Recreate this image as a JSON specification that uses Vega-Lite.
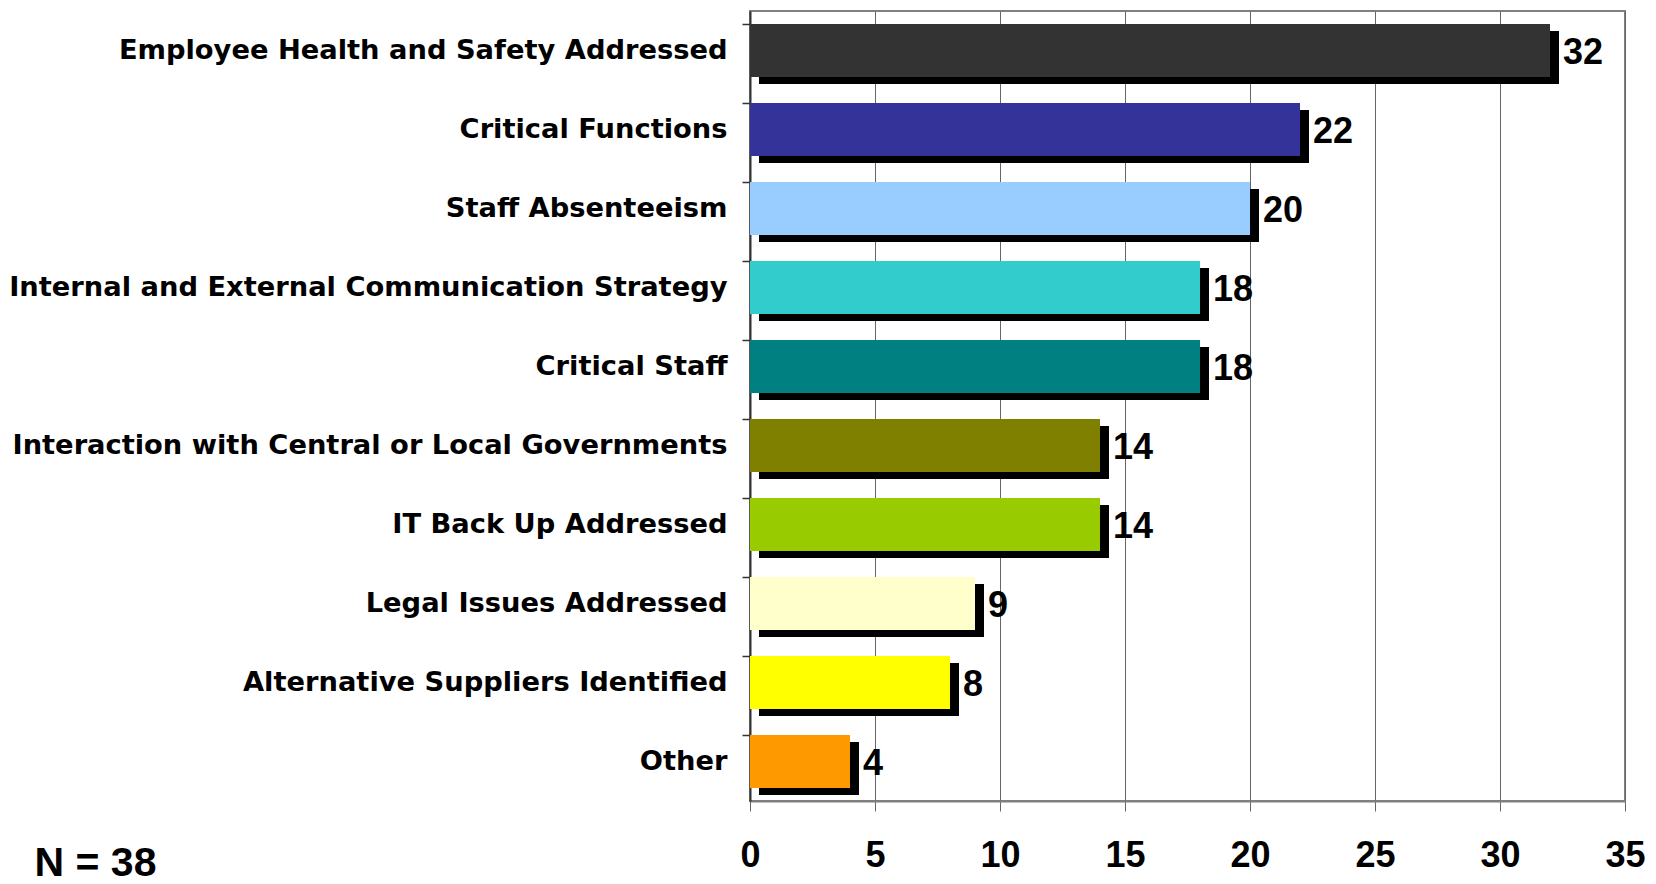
{
  "$schema": "https://vega.github.io/schema/vega-lite/v6.json",
  "width": 875,
  "height": 790,
  "autosize": {"type": "none"},
  "padding": {"left": 750, "top": 11, "right": 31, "bottom": 83},
  "background": "white",
  "config": {
    "view": {"stroke": "#808080", "strokeWidth": 2}
  },
  "data": {
    "values": [
      {"cat": "Employee Health and Safety Addressed", "value": 32},
      {"cat": "Critical Functions", "value": 22},
      {"cat": "Staff Absenteeism", "value": 20},
      {"cat": "Internal and External Communication Strategy", "value": 18},
      {"cat": "Critical Staff", "value": 18},
      {"cat": "Interaction with Central or Local Governments", "value": 14},
      {"cat": "IT Back Up Addressed", "value": 14},
      {"cat": "Legal Issues Addressed", "value": 9},
      {"cat": "Alternative Suppliers Identified", "value": 8},
      {"cat": "Other", "value": 4}
    ]
  },
  "encoding": {
    "y": {
      "field": "cat",
      "type": "nominal",
      "sort": null,
      "scale": {"paddingInner": 0.33, "paddingOuter": 0.165},
      "axis": {
        "title": null,
        "bandPosition": 0,
        "tickSize": 8,
        "tickColor": "#333333",
        "tickWidth": 1.5,
        "domainColor": "#333333",
        "domainWidth": 2,
        "grid": false,
        "labelFont": "DejaVu Sans",
        "labelFontSize": 27.3,
        "labelFontWeight": "bold",
        "labelColor": "#000000",
        "labelPadding": 15,
        "labelLimit": 1000
      }
    },
    "x": {
      "field": "value",
      "type": "quantitative",
      "scale": {"domain": [0, 35], "nice": false, "zero": true},
      "axis": {
        "values": [0, 5, 10, 15, 20, 25, 30, 35],
        "grid": true,
        "gridColor": "#666666",
        "gridWidth": 1,
        "domainColor": "#808080",
        "domainWidth": 2,
        "tickSize": 10,
        "tickColor": "#666666",
        "labelFont": "Liberation Sans",
        "labelFontSize": 36,
        "labelFontWeight": "bold",
        "labelColor": "#000000",
        "labelPadding": 27,
        "labelFlush": false,
        "labelOverlap": false,
        "title": "N = 38",
        "titleFont": "Liberation Sans",
        "titleFontSize": 41,
        "titleFontWeight": "bold",
        "titleColor": "#000000",
        "titleX": -716,
        "titleY": 74,
        "titleAlign": "left",
        "titleBaseline": "alphabetic"
      }
    }
  },
  "layer": [
    {
      "mark": {"type": "bar", "color": "#000000", "xOffset": 9, "x2Offset": 6, "yOffset": 7}
    },
    {
      "mark": {"type": "bar"},
      "encoding": {
        "color": {
          "field": "cat",
          "type": "nominal",
          "legend": null,
          "scale": {
            "domain": [
              "Employee Health and Safety Addressed",
              "Critical Functions",
              "Staff Absenteeism",
              "Internal and External Communication Strategy",
              "Critical Staff",
              "Interaction with Central or Local Governments",
              "IT Back Up Addressed",
              "Legal Issues Addressed",
              "Alternative Suppliers Identified",
              "Other"
            ],
            "range": ["#333333", "#333399", "#99CCFF", "#33CCCC", "#008080", "#808000", "#99CC00", "#FFFFCC", "#FFFF00", "#FF9900"]
          }
        }
      }
    },
    {
      "mark": {
        "type": "text",
        "align": "left",
        "baseline": "middle",
        "dx": 13,
        "dy": 2,
        "font": "Liberation Sans",
        "fontSize": 36,
        "fontWeight": "bold",
        "color": "#000000"
      },
      "encoding": {"text": {"field": "value", "type": "quantitative"}}
    }
  ]
}
